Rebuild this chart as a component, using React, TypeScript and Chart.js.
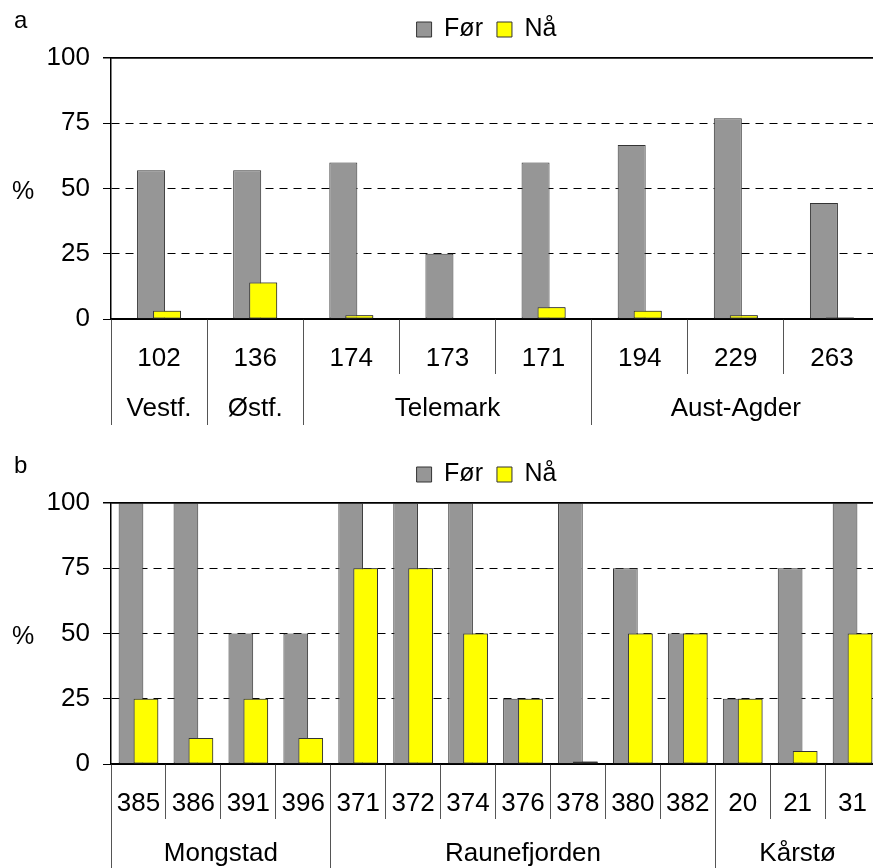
import React, { useEffect, useRef } from 'react';
import { Chart, registerables } from 'chart.js';

Chart.register(...registerables);

const FONT = 'Liberation Sans, Arial, sans-serif';

// Panel a
const catsA = ['102', '136', '174', '173', '171', '194', '229', '263'];
const forA = [57, 57, 60, 25, 60, 66.7, 76.9, 44.4];
const naA = [3.2, 14, 1.4, 0, 4.5, 3.2, 1.4, 0.6];
const groupsA = ['Vestf.', 'Østf.', 'Telemark', 'Aust-Agder'];
const groupSizesA = [1, 1, 3, 3];

// Panel b
const catsB = ['385', '386', '391', '396', '371', '372', '374', '376', '378', '380', '382', '20', '21', '31'];
const forB = [100, 100, 50, 50, 100, 100, 100, 25, 100, 75, 50, 25, 75, 100];
const naB = [25, 10, 25, 10, 75, 75, 50, 25, 1, 50, 50, 25, 5, 50];
const groupsB = ['Mongstad', 'Raunefjorden', 'Kårstø'];
const groupSizesB = [4, 7, 3];

const yTicks = [0, 25, 50, 75, 100];
const seriesNames = ['Før', 'Nå'];
const seriesColors = ['#969696', '#ffff00'];

const naOnTop = {
  id: 'naOnTop',
  afterDatasetsDraw(chart: any) {
    const meta = chart.getDatasetMeta(1);
    const ctx = chart.ctx;
    const a = chart.chartArea;
    ctx.save();
    ctx.beginPath();
    ctx.rect(a.left, a.top - 2, a.right - a.left, a.bottom - a.top + 2);
    ctx.clip();
    meta.controller.draw();
    ctx.restore();
  },
};

const legendShift = {
  id: 'legendShift',
  afterLayout(chart: any) {
    const lg = chart.legend;
    if (lg) {
      lg.left -= 9;
      lg.right -= 9;
    }
  },
};

type PanelProps = {
  letter: string;
  cats: string[];
  forVals: number[];
  naVals: number[];
  groups: string[];
  sizes: number[];
  catPct: number;
  barPct: number;
  top: number;
};

function Panel(props: PanelProps) {
  const ref = useRef<HTMLCanvasElement | null>(null);
  useEffect(() => {
    const { cats, forVals, naVals, groups, sizes, catPct, barPct } = props;
    const boundaries: number[] = [-0.5];
    const centers: number[] = [];
    let acc = -0.5;
    sizes.forEach((s) => {
      centers.push(acc + s / 2);
      acc += s;
      boundaries.push(acc);
    });
    const isBoundary = (v: number) => boundaries.some((b) => Math.abs(b - v) < 1e-6);
    const groupLabel = (v: number) => {
      const i = centers.findIndex((c) => Math.abs(c - v) < 1e-6);
      return i >= 0 ? groups[i] : '';
    };
    const mkDs = (i: number, data: number[]) => ({
      label: seriesNames[i],
      data,
      backgroundColor: seriesColors[i],
      borderColor: '#333',
      borderWidth: 1,
      borderSkipped: false,
      categoryPercentage: catPct,
      barPercentage: barPct,
      xAxisID: 'x',
    });
    const chart = new Chart(ref.current as HTMLCanvasElement, {
      type: 'bar',
      data: {
        labels: cats,
        datasets: [mkDs(0, forVals), mkDs(1, naVals)],
      },
      options: {
        animation: false,
        responsive: false,
        layout: { padding: { top: 3, left: 0, right: 0, bottom: 0 } },
        plugins: {
          legend: {
            display: true,
            position: 'top',
            fullSize: false,
            labels: {
              boxWidth: 15,
              boxHeight: 15,
              padding: 14,
              color: '#000',
              font: { family: FONT, size: 25 },
              sort: (a: any, b: any) => a.datasetIndex - b.datasetIndex,
            },
          },
          tooltip: { enabled: false },
        },
        scales: {
          y: {
            min: 0,
            max: 100,
            afterBuildTicks: (s: any) => {
              s.ticks = yTicks.map((v) => ({ value: v }));
            },
            afterFit: (s: any) => {
              s.width = 111;
            },
            ticks: { color: '#000', font: { family: FONT, size: 26 }, padding: 13 },
            grid: {
              color: '#000',
              lineWidth: (c: any) => (c.tick && c.tick.value === 100 ? 1.5 : 1),
              tickLength: 8,
              tickColor: '#000',
              tickBorderDash: [],
              drawOnChartArea: true,
            },
            border: {
              display: true,
              color: '#000',
              width: 1.5,
              dash: (c: any) => (c.tick && (c.tick.value === 100 || c.tick.value === 0) ? [] : [8, 6]),
            },
          },
          xTop: {
            type: 'category',
            position: 'top',
            labels: cats,
            grid: { display: false },
            ticks: { display: false },
            border: { display: true, color: '#000', width: 1.5 },
            afterFit: (s: any) => {
              s.height = 6;
            },
          },
          x: {
            type: 'category',
            position: 'bottom',
            weight: 0,
            offset: true,
            afterFit: (s: any) => {
              s.height = 55;
            },
            ticks: {
              color: '#000',
              font: { family: FONT, size: 26 },
              padding: -31,
              autoSkip: false,
              maxRotation: 0,
            },
            grid: {
              offset: true,
              drawOnChartArea: false,
              drawTicks: true,
              tickLength: 55,
              color: '#555',
              lineWidth: 1,
            },
            border: { display: true, color: '#000', width: 1.5 },
          },
          xg: {
            type: 'linear',
            position: 'bottom',
            weight: 1,
            min: -0.5,
            max: cats.length - 0.5,
            offset: false,
            afterBuildTicks: (s: any) => {
              const all = [...boundaries, ...centers].sort((p, q) => p - q);
              s.ticks = all.map((v) => ({ value: v }));
            },
            afterFit: (s: any) => {
              s.height = 71;
            },
            ticks: {
              color: '#000',
              font: { family: FONT, size: 26 },
              padding: -32,
              autoSkip: false,
              maxRotation: 0,
              callback: (v: any) => groupLabel(Number(v)),
            },
            grid: {
              offset: false,
              drawOnChartArea: false,
              drawTicks: true,
              tickLength: 51,
              color: (c: any) => (c.tick && isBoundary(c.tick.value) ? '#555' : 'rgba(0,0,0,0)'),
              lineWidth: 1,
            },
            border: { display: false },
          },
        },
      },
      plugins: [naOnTop, legendShift],
    } as any);
    return () => chart.destroy();
  }, []);

  const textStyle: React.CSSProperties = {
    position: 'absolute',
    fontFamily: FONT,
    fontSize: 25,
    lineHeight: '25px',
    color: '#000',
    margin: 0,
  };

  return (
    <div style={{ position: 'absolute', left: 0, top: props.top, width: 880, height: 445 }}>
      <canvas ref={ref} width={880} height={445} style={{ display: 'block', width: 880, height: 445 }} />
      <div style={{ ...textStyle, left: 14, top: 7, fontSize: 24 }}>{props.letter}</div>
      <div style={{ ...textStyle, left: 12, top: 178 }}>%</div>
    </div>
  );
}

export default function App() {
  return (
    <div
      style={{
        position: 'fixed',
        left: 0,
        top: 0,
        width: 873,
        height: 868,
        overflow: 'hidden',
        background: '#fff',
      }}
    >
      <Panel letter="a" cats={catsA} forVals={forA} naVals={naA} groups={groupsA} sizes={groupSizesA} catPct={0.333} barPct={1.75} top={0} />
      <Panel letter="b" cats={catsB} forVals={forB} naVals={naB} groups={groupsB} sizes={groupSizesB} catPct={0.545} barPct={1.65} top={445} />
    </div>
  );
}
